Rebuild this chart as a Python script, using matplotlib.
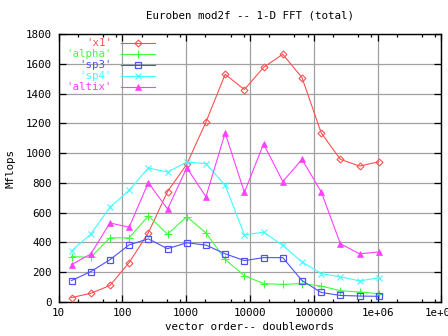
import matplotlib
matplotlib.use("Agg")
import matplotlib.pyplot as plt
from matplotlib.ticker import FixedLocator, FixedFormatter
from matplotlib.lines import Line2D

sizes = [16, 32, 64, 128, 256, 512, 1024, 2048, 4096, 8192, 16384, 32768,
         65536, 131072, 262144, 524288, 1048576]
x1 = [30, 58, 111, 265, 465, 742, 925, 1209, 1529, 1427, 1576, 1664, 1507,
      1136, 958, 913, 942]
alpha = [305, 300, 431, 431, 578, 456, 573, 464, 286, 176, 124, 118, 124,
         107, 76, 67, 56]
sp3 = [144, 204, 284, 384, 424, 358, 398, 382, 324, 278, 298, 298, 144,
       64, 44, 40, 38]
sp4 = [344, 456, 636, 751, 900, 873, 940, 929, 784, 451, 469, 380, 269,
       191, 169, 142, 162]
altix = [251, 322, 531, 502, 802, 624, 902, 707, 1136, 736, 1062, 809, 958,
         740, 391, 324, 336]

labels = ["'x1'", "'alpha'", "'sp3'", "'sp4'", "'altix'"]
colors = ["#ff5050", "#40ff40", "#5050ff", "#40ffff", "#ff40ff"]
markers = ["D", "+", "s", "x", "^"]
xtick_vals = [10, 100, 1000, 10000, 100000, 1000000, 10000000]
xtick_labels = ["10", "100", "1000", "10000", "100000", "1e+06", "1e+07"]
ytick_vals = [0, 200, 400, 600, 800, 1000, 1200, 1400, 1600, 1800]

FONT = "DejaVu Sans Mono"
FS = 7.8
plt.rcParams['font.family'] = [FONT]

L, R, T, B = 58.5, 441.3, 34, 302
fig = plt.figure(figsize=(4.48, 3.36), dpi=100)
ax = fig.add_axes([L/448, (336-B)/336, (R-L)/448, (B-T)/336])

series = [x1, alpha, sp3, sp4, altix]
styles = [dict(ms=3.5, mfc='none', mew=0.8),
          dict(ms=6, mew=0.8),
          dict(ms=5, mfc='none', mew=0.9),
          dict(ms=5, mew=0.8),
          dict(ms=4, mew=0.5)]
for ys, c, m, st in zip(series, colors, markers, styles):
    ax.plot(sizes, ys, color=c, marker=m, lw=0.8, mec=c, **st, zorder=3)

ax.set_xscale('log')
ax.set_xlim(10, 1e7)
ax.set_ylim(0, 1800)
ax.xaxis.set_major_locator(FixedLocator(xtick_vals))
ax.xaxis.set_major_formatter(FixedFormatter(xtick_labels))
minor = []
for d in range(1, 7):
    for k in (2, 5, 8):
        minor.append(k * 10 ** d)
ax.xaxis.set_minor_locator(FixedLocator(minor))
ax.xaxis.set_minor_formatter(FixedFormatter([""] * len(minor)))
ax.set_yticks(ytick_vals)
ax.set_yticklabels([str(v) for v in ytick_vals])

ax.tick_params(which='both', direction='in', top=True, right=True,
               labelsize=FS, width=0.9, color='black')
ax.tick_params(axis='x', pad=4)
ax.tick_params(axis='y', pad=5)
ax.tick_params(which='major', length=5)
ax.tick_params(which='minor', length=2.5)
ax.grid(True, which='major', color='#a0a0a0', lw=0.9)
ax.set_axisbelow(True)
for s in ax.spines.values():
    s.set_linewidth(1.0)

ax.set_title("Euroben mod2f -- 1-D FFT (total)", fontsize=FS, pad=11)
ax.set_xlabel("vector order-- doublewords", fontsize=FS, labelpad=3)
ax.set_ylabel("Mflops", fontsize=FS, labelpad=7)

# legend drawn manually (gnuplot style: right-aligned text, then sample)
trans = ax.transAxes
def fx(px):
    return (px - L) / (R - L)
def fy(py):
    return (B - py) / (B - T)
rows = [43.3, 54.3, 65.3, 76.3, 87.3]
for lab, c, m, st, py in zip(labels, colors, markers, styles, rows):
    ax.text(fx(112), fy(py), lab, color=c, fontsize=FS, ha='right',
            va='center', transform=trans)
    ax.add_line(Line2D([fx(121), fx(155)], [fy(py), fy(py)], color=c,
                       lw=0.8, transform=trans, zorder=4))
    ax.add_line(Line2D([fx(137.5)], [fy(py)], color=c, marker=m, mec=c,
                       transform=trans, zorder=4, **st))

fig.savefig("out.png", dpi=100)
